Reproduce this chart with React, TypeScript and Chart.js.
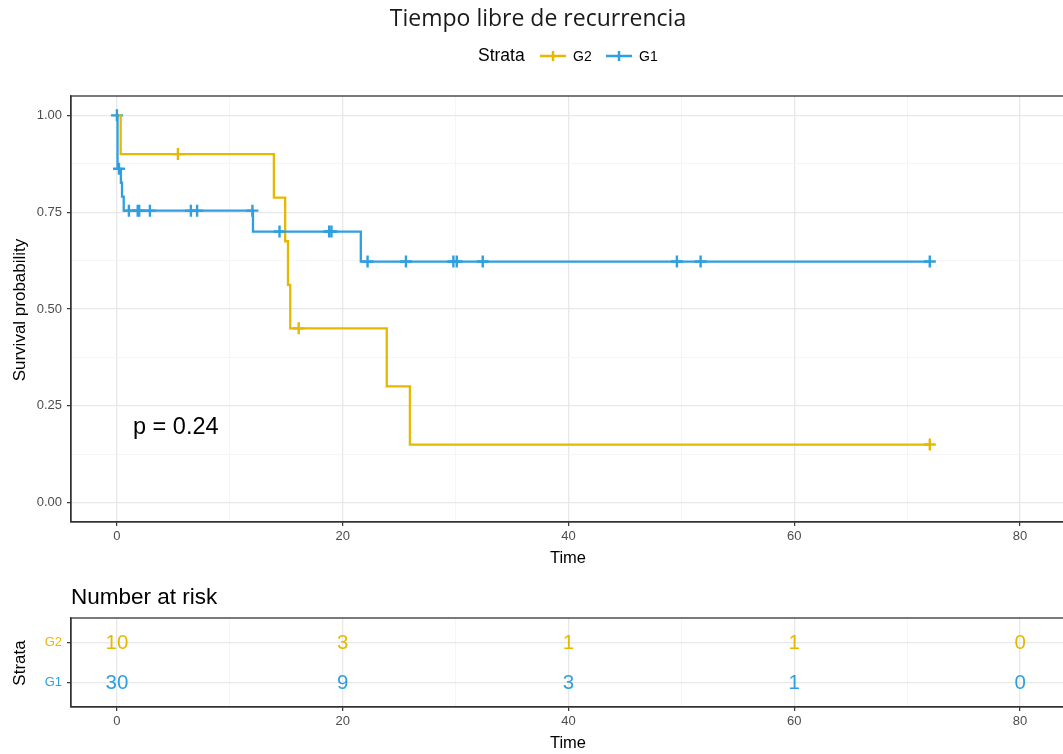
import React, { useEffect, useRef } from 'react';
import { Chart, registerables } from 'chart.js';

Chart.register(...registerables);

const YELLOW = '#E7B800';
const BLUE = '#2E9FDF';
const FONT = "'Liberation Sans', Arial, sans-serif";

// ---- Data ----
const g2Times = [0, 0.33, 13.9, 14.9, 15.15, 15.35, 23.9, 25.95, 72];
const g2Surv = [1.0, 0.9, 0.7875, 0.675, 0.5625, 0.45, 0.3, 0.15, 0.15];
const g2CensorTimes = [5.4, 16.1, 72];
const g2CensorSurv = [0.9, 0.45, 0.15];

const g1Times = [0, 0.05, 0.35, 0.45, 0.6, 12.05, 21.6, 72];
const g1Surv = [1.0, 0.862, 0.826, 0.79, 0.754, 0.7, 0.6225, 0.6225];
const g1CensorTimes = [0, 0.18, 1.06, 1.84, 1.97, 2.92, 6.55, 7.1, 12.0, 14.4, 18.8, 19.0, 22.2, 25.6, 29.8, 30.1, 32.4, 49.6, 51.7, 72.0];
const g1CensorSurv = [1.0, 0.862, 0.754, 0.754, 0.754, 0.754, 0.754, 0.754, 0.754, 0.7, 0.7, 0.7, 0.6225, 0.6225, 0.6225, 0.6225, 0.6225, 0.6225, 0.6225, 0.6225];

const xGrid = [0, 10, 20, 30, 40, 50, 60, 70, 80];
const xMajor = [0, 20, 40, 60, 80];
const yGrid = [0, 0.125, 0.25, 0.375, 0.5, 0.625, 0.75, 0.875, 1.0];
const yMajor = [0, 0.25, 0.5, 0.75, 1.0];

const riskTimes = [0, 20, 40, 60, 80];
const g2Risk = [10, 3, 1, 1, 0];
const g1Risk = [30, 9, 3, 1, 0];
const strataNames = ['G1', 'G2'];

const pValueText = 'p = 0.24';
const titleText = 'Tiempo libre de recurrencia';

const W = 1063;
const H1 = 575;
const H2 = 179;

const isMajor = (v: number, list: number[]) => list.some((m) => Math.abs(m - v) < 1e-9);

function xScaleOpts(height: number) {
  return {
    type: 'linear' as const,
    min: -4.07,
    max: 83.8,
    afterBuildTicks: (s: any) => {
      s.ticks = xGrid.map((v) => ({ value: v }));
    },
    afterFit: (s: any) => {
      s.height = height;
    },
    ticks: {
      autoSkip: false,
      maxRotation: 0,
      padding: 3,
      color: '#4d4d4d',
      font: { family: FONT, size: 13 },
      callback: (v: any) => (isMajor(Number(v), xMajor) ? String(v) : ''),
    },
    grid: {
      drawTicks: true,
      tickLength: 4,
      color: (c: any) => (isMajor(c.tick?.value, xMajor) ? '#e8e8e8' : '#f2f2f2'),
      lineWidth: (c: any) => (isMajor(c.tick?.value, xMajor) ? 1.3 : 0.8),
      tickColor: (c: any) => (isMajor(c.tick?.value, xMajor) ? '#333333' : 'rgba(0,0,0,0)'),
      tickWidth: 1.2,
    },
    border: { display: true, color: '#333333', width: 1.3 },
  };
}

function drawText(ctx: CanvasRenderingContext2D, text: string, x: number, y: number, font: string, color: string, align: CanvasTextAlign = 'left', rotate = 0) {
  ctx.save();
  ctx.font = font;
  ctx.fillStyle = color;
  ctx.textAlign = align;
  ctx.textBaseline = 'middle';
  ctx.translate(x, y);
  if (rotate) ctx.rotate(rotate);
  ctx.fillText(text, 0, 0);
  ctx.restore();
}

const mainPlugin = {
  id: 'mainDecor',
  afterDraw(chart: any) {
    const { ctx, chartArea } = chart;
    ctx.save();
    ctx.strokeStyle = '#333333';
    ctx.lineWidth = 1.3;
    ctx.strokeRect(chartArea.left, chartArea.top, chartArea.right - chartArea.left + 5, chartArea.bottom - chartArea.top);
    ctx.restore();

    drawText(ctx, titleText, 538, 19, "23px 'Open Sans', sans-serif", '#1a1a1a', 'center');

    // legend
    drawText(ctx, 'Strata', 478, 56, `17.5px ${FONT}`, '#000', 'left');
    const items = [
      { label: 'G2', color: YELLOW, x0: 540 },
      { label: 'G1', color: BLUE, x0: 606 },
    ];
    items.forEach((it) => {
      ctx.save();
      ctx.strokeStyle = it.color;
      ctx.lineWidth = 2.5;
      ctx.beginPath();
      ctx.moveTo(it.x0, 56);
      ctx.lineTo(it.x0 + 26, 56);
      ctx.moveTo(it.x0 + 13, 51);
      ctx.lineTo(it.x0 + 13, 61);
      ctx.stroke();
      ctx.restore();
      drawText(ctx, it.label, it.x0 + 33, 57, `14px ${FONT}`, '#000', 'left');
    });

    drawText(ctx, 'Survival probability', 20, 310, `17px ${FONT}`, '#000', 'center', -Math.PI / 2);
    drawText(ctx, 'Time', (chartArea.left + chartArea.right + 2) / 2, 558, `16.5px ${FONT}`, '#000', 'center');
    drawText(ctx, pValueText, 133, 428, `23.5px ${FONT}`, '#000', 'left');
  },
};

const riskPlugin = {
  id: 'riskDecor',
  afterDraw(chart: any) {
    const { ctx, chartArea, scales } = chart;
    ctx.save();
    ctx.strokeStyle = '#333333';
    ctx.lineWidth = 1.3;
    ctx.strokeRect(chartArea.left, chartArea.top, chartArea.right - chartArea.left + 5, chartArea.bottom - chartArea.top);
    ctx.restore();

    const rows = [
      { vals: g2Risk, y: 2, color: YELLOW },
      { vals: g1Risk, y: 1, color: BLUE },
    ];
    rows.forEach((r) => {
      r.vals.forEach((v, i) => {
        const px = scales.x.getPixelForValue(riskTimes[i]);
        const py = scales.y.getPixelForValue(r.y);
        drawText(ctx, String(v), px, py + 1, `20.5px ${FONT}`, r.color, 'center');
      });
    });

    drawText(ctx, 'Number at risk', 71, 23, `22.5px ${FONT}`, '#000', 'left');
    drawText(ctx, 'Strata', 20, 88, `17px ${FONT}`, '#000', 'center', -Math.PI / 2);
    drawText(ctx, 'Time', (chartArea.left + chartArea.right + 2) / 2, 168, `16.5px ${FONT}`, '#000', 'center');
  },
};

export default function App() {
  const mainRef = useRef<HTMLCanvasElement>(null);
  const riskRef = useRef<HTMLCanvasElement>(null);

  useEffect(() => {
    const mk = (ts: number[], ss: number[]) => ts.map((t, i) => ({ x: t, y: ss[i] }));

    const main = new Chart(mainRef.current!, {
      type: 'line',
      data: {
        datasets: [
          { label: 'G1', data: mk(g1Times, g1Surv), borderColor: BLUE, borderWidth: 2.3, stepped: true, pointRadius: 0, fill: false },
          { label: 'G2', data: mk(g2Times, g2Surv), borderColor: YELLOW, borderWidth: 2.3, stepped: true, pointRadius: 0, fill: false },
          { label: 'G1 censor', data: mk(g1CensorTimes, g1CensorSurv), showLine: false, pointStyle: 'cross', pointRadius: 6, pointBorderWidth: 2.4, borderColor: BLUE, pointBorderColor: BLUE },
          { label: 'G2 censor', data: mk(g2CensorTimes, g2CensorSurv), showLine: false, pointStyle: 'cross', pointRadius: 6, pointBorderWidth: 2.4, borderColor: YELLOW, pointBorderColor: YELLOW },
        ] as any,
      },
      options: {
        animation: false,
        responsive: false,
        maintainAspectRatio: false,
        devicePixelRatio: 1,
        layout: { autoPadding: false, padding: { left: 0, right: 0, top: 96, bottom: 0 } },
        plugins: { legend: { display: false }, title: { display: false }, tooltip: { enabled: false } },
        scales: {
          x: xScaleOpts(H1 - 522),
          y: {
            type: 'linear',
            min: -0.05,
            max: 1.05,
            afterBuildTicks: (s: any) => {
              s.ticks = yGrid.map((v) => ({ value: v }));
            },
            afterFit: (s: any) => {
              s.width = 71;
            },
            ticks: {
              autoSkip: false,
              padding: 5,
              color: '#4d4d4d',
              font: { family: FONT, size: 13 },
              callback: (v: any) => (isMajor(Number(v), yMajor) ? Number(v).toFixed(2) : ''),
            },
            grid: {
              drawTicks: true,
              tickLength: 4,
              color: (c: any) => (isMajor(c.tick?.value, yMajor) ? '#e8e8e8' : '#f2f2f2'),
              lineWidth: (c: any) => (isMajor(c.tick?.value, yMajor) ? 1.3 : 0.8),
              tickColor: (c: any) => (isMajor(c.tick?.value, yMajor) ? '#333333' : 'rgba(0,0,0,0)'),
              tickWidth: 1.2,
            },
            border: { display: true, color: '#333333', width: 1.3 },
          },
        } as any,
      },
      plugins: [mainPlugin],
    });

    const risk = new Chart(riskRef.current!, {
      type: 'line',
      data: {
        datasets: [
          { label: 'G2 risk', data: riskTimes.map((t) => ({ x: t, y: 2 })), showLine: false, pointRadius: 0 },
          { label: 'G1 risk', data: riskTimes.map((t) => ({ x: t, y: 1 })), showLine: false, pointRadius: 0 },
        ] as any,
      },
      options: {
        animation: false,
        responsive: false,
        maintainAspectRatio: false,
        devicePixelRatio: 1,
        layout: { autoPadding: false, padding: { left: 0, right: 0, top: 43, bottom: 0 } },
        plugins: { legend: { display: false }, title: { display: false }, tooltip: { enabled: false } },
        scales: {
          x: xScaleOpts(H2 - 132),
          y: {
            type: 'linear',
            min: 0.4,
            max: 2.6,
            afterBuildTicks: (s: any) => {
              s.ticks = [1, 2].map((v) => ({ value: v }));
            },
            afterFit: (s: any) => {
              s.width = 71;
            },
            ticks: {
              autoSkip: false,
              padding: 5,
              color: (c: any) => (c.tick?.value === 2 ? YELLOW : BLUE),
              font: { family: FONT, size: 13 },
              callback: (v: any) => strataNames[Number(v) - 1] ?? '',
            },
            grid: {
              drawTicks: true,
              tickLength: 4,
              color: '#e8e8e8',
              lineWidth: 1.3,
              tickColor: '#333333',
              tickWidth: 1.2,
            },
            border: { display: true, color: '#333333', width: 1.3 },
          },
        } as any,
      },
      plugins: [riskPlugin],
    });

    return () => {
      main.destroy();
      risk.destroy();
    };
  }, []);

  return (
    <div style={{ position: 'absolute', left: 0, top: 0, width: W, height: H1 + H2, background: '#fff', overflow: 'hidden' }}>
      <canvas ref={mainRef} width={W} height={H1} style={{ position: 'absolute', left: 0, top: 0, display: 'block' }} />
      <canvas ref={riskRef} width={W} height={H2} style={{ position: 'absolute', left: 0, top: H1, display: 'block' }} />
    </div>
  );
}
